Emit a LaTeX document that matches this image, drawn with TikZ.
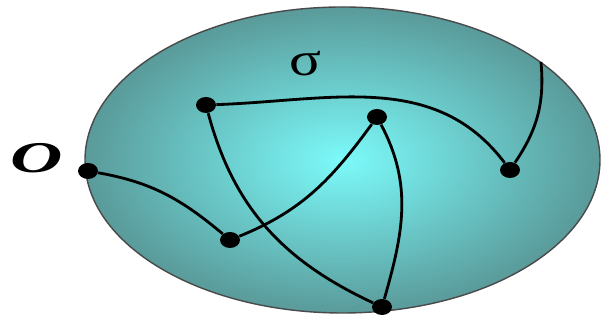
\documentclass[tikz,border=0pt]{standalone}
\usepackage{fontspec}
\setmainfont{Liberation Serif}
\usepackage{graphicx}
\usetikzlibrary{shapes.geometric}
\definecolor{core}{HTML}{7CFAFA}
\definecolor{rim}{HTML}{5A9A9A}
\definecolor{outline}{HTML}{4A4A4A}

\begin{document}
\begin{tikzpicture}[x=0.02cm,y=0.02cm,
 dot/.style={ellipse,fill=black,inner sep=0pt,minimum width=0.4cm,minimum height=0.32cm},
 arc/.style={line width=1.6pt,black}]
\useasboundingbox (0,0) rectangle (602,320);
\shade[inner color=core,outer color=rim,draw=outline,line width=0.8pt]
 (342.5,160) ellipse [x radius=257.5,y radius=153];
\node[dot] (o) at (88,149) {};
\node[dot] (a) at (206,215) {};
\node[dot] (b) at (377,203) {};
\node[dot] (c) at (510,150) {};
\node[dot] (d) at (230,80) {};
\node[dot] (e) at (382,13) {};
\coordinate (t) at (541,258);
\node (lo) at (36.5,162) {\scalebox{1.65}[1]{\fontsize{25}{26}\selectfont\bfseries\itshape O}};
\node (ls) at (305,256) {\scalebox{1.25}[1]{\fontsize{27}{28}\selectfont σ}};
\foreach \p/\q/\o/\i in {o/d/-10/140,d/b/22/-126,b/e/-62/74,a/e/-75/155,a/c/2/127,c/t/56/-85}
 \draw[arc] (\p) to[out=\o,in=\i] (\q);
\end{tikzpicture}
\end{document}
